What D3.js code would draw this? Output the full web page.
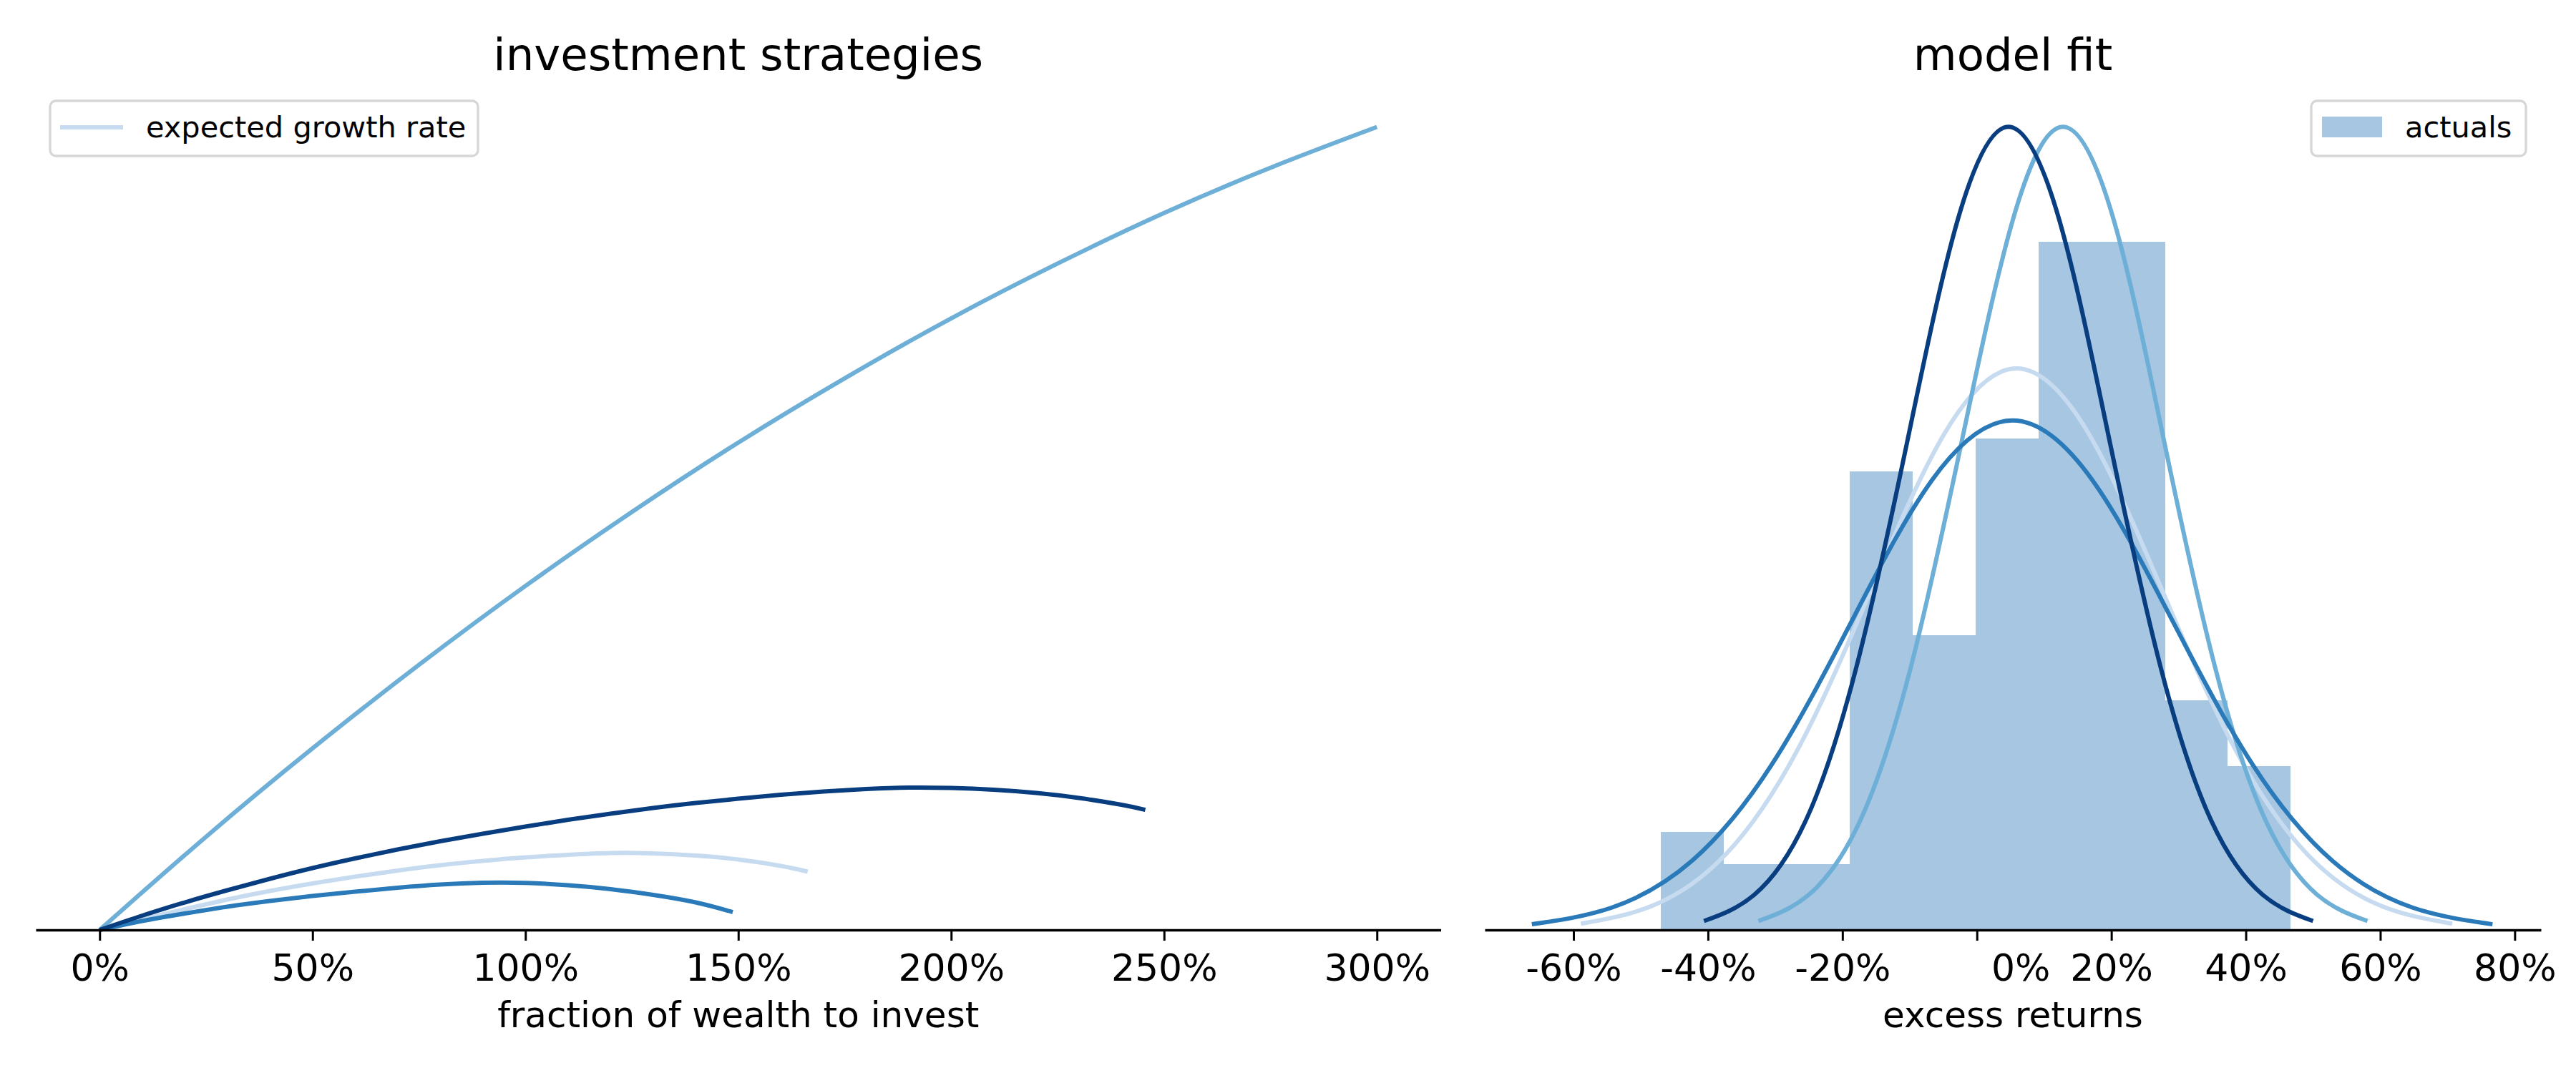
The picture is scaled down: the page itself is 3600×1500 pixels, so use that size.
<!DOCTYPE html>
<html>
<head>
<meta charset="utf-8">
<script src="https://cdn.jsdelivr.net/npm/d3@7"></script>
<style>
  body { margin: 0; background: #fff; }
  text { font-family: "DejaVu Sans", sans-serif; }
</style>
</head>
<body>
<div id="chart-area"></div>
<script>
// ---- data ----

const palette = ['#c6dbef', '#6dafd7', '#2a7ab9', '#083d7f'];
const histColor = '#2171b5';

// left panel: expected growth rate vs fraction of wealth invested
const fracA = [0, 0.1, 0.2, 0.3, 0.4, 0.5, 0.6, 0.7, 0.8, 0.9, 1.0, 1.1, 1.2, 1.3, 1.4, 1.5, 1.6, 1.663];
const growthA = [0, 0.00374, 0.00723, 0.01060, 0.01359, 0.01620, 0.01857, 0.02069, 0.02256, 0.02406,
  0.02530, 0.02618, 0.02680, 0.02668, 0.02593, 0.02456, 0.02231, 0.02032];

const fracB = [0, 0.25, 0.5, 0.75, 1.0, 1.25, 1.5, 1.75, 2.0, 2.25, 2.5, 2.75, 3.0];
const growthB = [0, 0.0325, 0.0633, 0.0924, 0.1199, 0.1457, 0.1699, 0.1923, 0.2132, 0.2323, 0.2499, 0.2657, 0.2799];

const fracC = [0, 0.1, 0.2, 0.3, 0.4, 0.5, 0.6, 0.7, 0.8, 0.9, 1.0, 1.1, 1.2, 1.3, 1.4, 1.487];
const growthC = [0, 0.00312, 0.00573, 0.00810, 0.01010, 0.01184, 0.01334, 0.01471, 0.01583, 0.01645,
  0.01640, 0.01558, 0.01421, 0.01222, 0.00960, 0.00623];

const fracD = [0, 0.1, 0.2, 0.3, 0.4, 0.5, 0.6, 0.7, 0.8, 0.9, 1.0, 1.1, 1.2, 1.3, 1.4, 1.5, 1.6, 1.7,
  1.8, 1.9, 2.0, 2.1, 2.2, 2.3, 2.4, 2.456];
const growthD = [0, 0.00499, 0.00960, 0.01384, 0.01783, 0.02156, 0.02493, 0.02805, 0.03091, 0.03353,
  0.03602, 0.03839, 0.04051, 0.04251, 0.04425, 0.04575, 0.04712, 0.04824, 0.04911, 0.04961,
  0.04948, 0.04886, 0.04774, 0.04600, 0.04363, 0.04188];

const fracTicks = [0, 0.5, 1.0, 1.5, 2.0, 2.5, 3.0];

// right panel: histogram of excess returns (counts per bin)
const binEdges = [-0.470, -0.376, -0.283, -0.189, -0.095, -0.002, 0.092, 0.186, 0.280, 0.373, 0.467];
const binCounts = [3, 2, 2, 14, 9, 15, 21, 21, 7, 5];

// right panel: fitted densities
const retA = [-0.589, -0.481, -0.373, -0.265, -0.157, -0.049, 0.059, 0.167, 0.275, 0.383, 0.491, 0.599, 0.707];
const densA = [0.0205, 0.0811, 0.2499, 0.5997, 1.1202, 1.630, 1.847, 1.630, 1.1202, 0.5997, 0.2499, 0.0811, 0.0205];

const retB = [-0.325, -0.250, -0.174, -0.099, -0.023, 0.053, 0.128, 0.204, 0.279, 0.355, 0.430, 0.506, 0.581];
const densB = [0.0293, 0.116, 0.3575, 0.858, 1.602, 2.332, 2.642, 2.332, 1.602, 0.858, 0.3575, 0.116, 0.0293];

const retC = [-0.662, -0.543, -0.424, -0.305, -0.186, -0.067, 0.053, 0.172, 0.291, 0.410, 0.529, 0.648, 0.767];
const densC = [0.0186, 0.0736, 0.2268, 0.5442, 1.0165, 1.479, 1.676, 1.479, 1.0165, 0.5442, 0.2268, 0.0736, 0.0186];

const retD = [-0.406, -0.331, -0.255, -0.180, -0.104, -0.029, 0.047, 0.123, 0.198, 0.274, 0.349, 0.425, 0.500];
const densD = [0.0293, 0.116, 0.3575, 0.858, 1.602, 2.332, 2.642, 2.332, 1.602, 0.858, 0.3575, 0.116, 0.0293];

const retTicks = [-0.6, -0.4, -0.2, 0, 0.2, 0.4, 0.6, 0.8];

// ---- layout ----
const W = 3600, H = 1500;
const baseY = 1300, topY = 121;
const lineW = 6;

const svg = d3.select('#chart-area').append('svg')
  .attr('width', W)
  .attr('height', H)
  .style('display', 'block');

const zip = (xs, ys) => xs.map((x, i) => ({ x: x, y: ys[i] }));
const pct = d => `${Math.round(d * 100)}%`;

// bottom axis, matplotlib-ish styling
const drawAxis = (x, ticks) => {
  const g = svg.append('g')
    .attr('transform', `translate(0, ${baseY})`)
    .call(d3.axisBottom(x).tickValues(ticks).tickFormat(pct)
      .tickSizeInner(15).tickSizeOuter(0));
  g.select('.domain').attr('stroke', '#000').attr('stroke-width', 3.3);
  g.selectAll('.tick line').attr('stroke', '#000').attr('stroke-width', 3);
  g.selectAll('.tick text')
    .attr('font-family', '"DejaVu Sans", sans-serif')
    .attr('font-size', 52)
    .attr('fill', '#000')
    .attr('y', 71)
    .attr('dy', null);
  return g;
};

// LEFT: investment strategies
const xL = d3.scaleLinear().domain([-0.15, 3.15]).range([50, 2013.5]);
const yL = d3.scaleLinear().domain([0, 0.28 * 1.05]).range([baseY, topY]);

const leftLine = d3.line()
  .x(d => xL(d.x))
  .y(d => yL(d.y))
  .curve(d3.curveNatural);

const leftSeries = [
  zip(fracA, growthA),
  zip(fracB, growthB),
  zip(fracC, growthC),
  zip(fracD, growthD)
];

svg.append('g').selectAll('path')
  .data(leftSeries)
  .enter().append('path')
    .attr('d', leftLine)
    .attr('fill', 'none')
    .attr('stroke', (d, i) => palette[i])
    .attr('stroke-width', lineW);

drawAxis(xL, fracTicks);

svg.append('text')
  .attr('x', (xL.range()[0] + xL.range()[1]) / 2)
  .attr('y', 98)
  .attr('font-size', 62.5)
  .attr('text-anchor', 'middle')
  .text('investment strategies');

svg.append('text')
  .attr('x', (xL.range()[0] + xL.range()[1]) / 2)
  .attr('y', 1436)
  .attr('font-size', 50)
  .attr('text-anchor', 'middle')
  .text('fraction of wealth to invest');

// left legend
const legL = svg.append('g');
legL.append('rect')
  .attr('x', 70).attr('y', 141)
  .attr('width', 598).attr('height', 77)
  .attr('rx', 8)
  .attr('fill', '#fff').attr('fill-opacity', 0.8)
  .attr('stroke', '#cccccc').attr('stroke-opacity', 0.8)
  .attr('stroke-width', 3.3);
legL.append('line')
  .attr('x1', 84).attr('x2', 172)
  .attr('y1', 178).attr('y2', 178)
  .attr('stroke', palette[0])
  .attr('stroke-width', lineW);
legL.append('text')
  .attr('x', 204).attr('y', 192)
  .attr('font-size', 41.5)
  .text('expected growth rate');

// RIGHT: model fit
const xR = d3.scaleLinear().domain([-0.732, 0.839]).range([2075, 3551]);
const yR = d3.scaleLinear().domain([0, 2.642 * 1.05]).range([baseY, topY]);

const nObs = d3.sum(binCounts);
const binWidth = (binEdges[binEdges.length - 1] - binEdges[0]) / binCounts.length;
const bins = binCounts.map((c, i) => ({
  x0: binEdges[i],
  x1: binEdges[i + 1],
  density: c / (nObs * binWidth)
}));

svg.append('g').selectAll('rect')
  .data(bins)
  .enter().append('rect')
    .attr('x', d => xR(d.x0))
    .attr('width', d => xR(d.x1) - xR(d.x0))
    .attr('y', d => yR(d.density))
    .attr('height', d => baseY - yR(d.density))
    .attr('fill', histColor)
    .attr('fill-opacity', 0.4)
    .attr('shape-rendering', 'crispEdges');

const rightLine = d3.line()
  .x(d => xR(d.x))
  .y(d => yR(d.y))
  .curve(d3.curveNatural);

const rightSeries = [
  zip(retA, densA),
  zip(retB, densB),
  zip(retC, densC),
  zip(retD, densD)
];

svg.append('g').selectAll('path')
  .data(rightSeries)
  .enter().append('path')
    .attr('d', rightLine)
    .attr('fill', 'none')
    .attr('stroke', (d, i) => palette[i])
    .attr('stroke-width', lineW);

const axR = drawAxis(xR, retTicks);
// the 0% label sits off its tick in the original
axR.selectAll('.tick text')
  .attr('x', d => d === 0 ? 61 : 0);

svg.append('text')
  .attr('x', (xR.range()[0] + xR.range()[1]) / 2)
  .attr('y', 98)
  .attr('font-size', 62.5)
  .attr('text-anchor', 'middle')
  .text('model fit');

svg.append('text')
  .attr('x', (xR.range()[0] + xR.range()[1]) / 2)
  .attr('y', 1436)
  .attr('font-size', 50)
  .attr('text-anchor', 'middle')
  .text('excess returns');

// right legend
const legR = svg.append('g');
legR.append('rect')
  .attr('x', 3230).attr('y', 141)
  .attr('width', 300).attr('height', 77)
  .attr('rx', 8)
  .attr('fill', '#fff').attr('fill-opacity', 0.8)
  .attr('stroke', '#cccccc').attr('stroke-opacity', 0.8)
  .attr('stroke-width', 3.3);
legR.append('rect')
  .attr('x', 3245).attr('y', 163)
  .attr('width', 84).attr('height', 29)
  .attr('fill', histColor)
  .attr('fill-opacity', 0.4);
legR.append('text')
  .attr('x', 3361).attr('y', 192)
  .attr('font-size', 41.5)
  .text('actuals');
</script>
</body>
</html>
